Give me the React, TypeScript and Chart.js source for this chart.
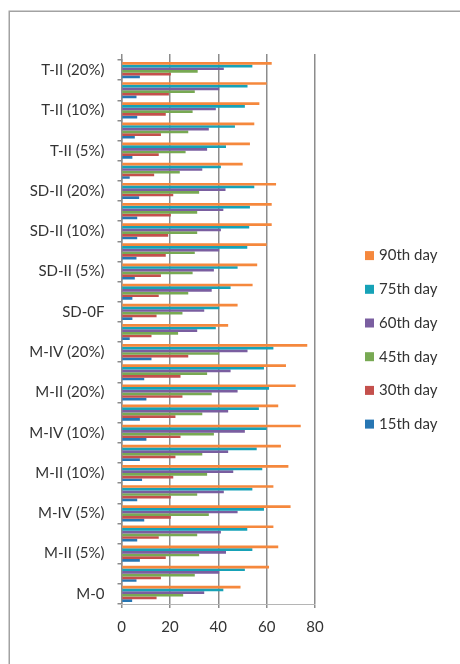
import React, { useEffect, useRef } from "react";
import { Chart, registerables } from "chart.js";
Chart.register(...registerables);

const categories = [
  "M-0", "M-I (5%)", "M-II (5%)", "M-III (5%)", "M-IV (5%)",
  "M-I (10%)", "M-II (10%)", "M-III (10%)", "M-IV (10%)",
  "M-I (20%)", "M-II (20%)", "M-III (20%)", "M-IV (20%)",
  "SD-0", "SD-0F", "SD-I (5%)", "SD-II (5%)", "SD-I (10%)", "SD-II (10%)",
  "SD-I (20%)", "SD-II (20%)", "T-I (5%)", "T-II (5%)", "T-I (10%)", "T-II (10%)",
  "T-I (20%)", "T-II (20%)",
];

const day90 = [49.2, 61.0, 64.8, 62.8, 69.9, 62.8, 69.0, 65.9, 74.1, 64.8, 72.0, 68.0, 76.8, 44.1, 48.0, 54.2, 56.1, 60.0, 62.1, 62.1, 63.9, 50.1, 53.1, 54.9, 57.0, 60.0, 62.1];
const day75 = [42.1, 51.0, 54.1, 52.0, 58.9, 54.1, 58.2, 55.9, 60.0, 56.8, 61.0, 58.9, 62.8, 39.0, 40.4, 45.1, 48.0, 52.0, 52.8, 53.1, 54.9, 41.1, 43.2, 46.9, 51.0, 52.1, 54.1];
const day60 = [34.2, 40.4, 43.2, 41.1, 48.0, 42.3, 46.2, 44.1, 51.0, 44.1, 48.0, 45.1, 52.1, 31.3, 34.2, 37.3, 38.2, 40.4, 41.1, 42.1, 43.0, 33.4, 35.4, 36.1, 39.0, 40.4, 42.3];
const day45 = [25.5, 30.3, 32.1, 31.3, 36.1, 31.3, 35.4, 33.4, 38.2, 33.4, 37.3, 35.4, 40.4, 23.4, 25.2, 27.6, 29.4, 30.3, 31.3, 31.3, 32.1, 24.1, 26.5, 27.6, 29.4, 30.3, 31.5];
const day30 = [14.5, 16.3, 18.3, 15.4, 20.4, 20.4, 21.4, 22.3, 24.4, 22.3, 25.2, 24.4, 27.6, 12.4, 14.5, 15.4, 16.3, 18.3, 19.3, 20.4, 21.4, 13.5, 15.4, 16.3, 18.3, 19.6, 20.4];
const day15 = [4.4, 6.2, 7.6, 6.5, 9.4, 6.5, 8.5, 7.6, 10.3, 7.6, 10.3, 9.4, 12.4, 3.4, 4.5, 4.5, 5.5, 6.2, 6.5, 6.5, 7.3, 3.4, 4.5, 5.5, 6.5, 6.2, 7.6];

const seriesNames = ["90th day", "75th day", "60th day", "45th day", "30th day", "15th day"];
const seriesValues = [day90, day75, day60, day45, day30, day15];
const seriesColors = ["#f5883d", "#16a2b7", "#7a5ea0", "#78a953", "#c4504c", "#2776b3"];

const xMin = 0;
const xMax = 80;
const xStep = 20;

const TEXT = "#333333";
const GRID = "#8c8c8c";
const FONT = "Lato";
const FSIZE = 15;

export default function App() {
  const ref = useRef<HTMLCanvasElement>(null);

  useEffect(() => {
    if (!ref.current) return;

    const framePlugin = {
      id: "frame",
      beforeDraw(chart: any) {
        const ctx = chart.ctx;
        ctx.save();
        ctx.strokeStyle = "#a2a2a2";
        ctx.lineWidth = 1.5;
        ctx.beginPath();
        ctx.moveTo(9.25, 664);
        ctx.lineTo(9.25, 11.25);
        ctx.lineTo(460, 11.25);
        ctx.stroke();
        ctx.restore();
      },
    };

    const legendPlugin = {
      id: "sideLegend",
      afterDraw(chart: any) {
        const ctx = chart.ctx;
        ctx.save();
        ctx.font = `${FSIZE}px ${FONT}`;
        ctx.textBaseline = "middle";
        ctx.textAlign = "left";
        chart.data.datasets.forEach((ds: any, i: number) => {
          const y = 255.6 + i * 33.7;
          ctx.fillStyle = ds.backgroundColor;
          ctx.fillRect(365, y - 4.5, 9, 9);
          ctx.fillStyle = TEXT;
          ctx.fillText(ds.label, 379, y);
        });
        ctx.restore();
      },
    };

    const chart = new Chart(ref.current, {
      type: "bar",
      data: {
        labels: categories,
        datasets: seriesNames.map((name, i) => ({
          label: name,
          data: seriesValues[i],
          backgroundColor: seriesColors[i],
          borderWidth: 0,
          categoryPercentage: 0.8,
          barPercentage: 1.0,
        })),
      },
      options: {
        indexAxis: "y",
        responsive: false,
        animation: false,
        devicePixelRatio: 1,
        layout: { padding: { top: 60, right: 145, bottom: 0, left: 0 } },
        plugins: {
          legend: { display: false },
          tooltip: { enabled: false },
        },
        scales: {
          y: {
            type: "category",
            reverse: true,
            offset: true,
            afterFit: (s: any) => { s.width = 121.5; },
            grid: {
              display: true,
              offset: true,
              drawOnChartArea: false,
              drawTicks: true,
              tickLength: 4,
              color: GRID,
              lineWidth: 1.5,
            },
            border: { display: true, color: GRID, width: 1.5 },
            ticks: {
              autoSkip: false,
              padding: 13,
              color: TEXT,
              font: { family: FONT, size: FSIZE },
              callback: (_v: any, i: number) => (i % 2 === 0 ? categories[i] : ""),
            },
          },
          x: {
            type: "linear",
            position: "bottom",
            min: xMin,
            max: xMax,
            afterFit: (s: any) => { s.height = 60; },
            grid: {
              display: true,
              drawOnChartArea: true,
              drawTicks: true,
              tickLength: 4,
              color: GRID,
              lineWidth: 1.5,
            },
            border: { display: true, color: "#b5b5b5", width: 1 },
            ticks: {
              stepSize: xStep,
              padding: 10,
              color: TEXT,
              font: { family: FONT, size: FSIZE },
            },
          },
          x2: {
            type: "linear",
            position: "top",
            min: xMin,
            max: xMax,
            afterFit: (s: any) => { s.height = 0; },
            grid: {
              display: true,
              drawOnChartArea: false,
              drawTicks: true,
              tickLength: 6,
              color: GRID,
              lineWidth: 1.5,
            },
            border: { display: false },
            ticks: { display: false, stepSize: xStep },
          },
        },
      },
      plugins: [framePlugin, legendPlugin],
    } as any);

    return () => chart.destroy();
  }, []);

  return (
    <div style={{ position: "absolute", left: 0, top: 0, width: 460, height: 664, background: "#fff" }}>
      <canvas ref={ref} width={460} height={664} style={{ width: 460, height: 664, display: "block" }} />
    </div>
  );
}
